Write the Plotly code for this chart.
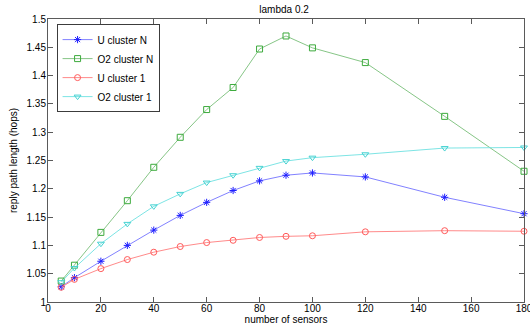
import plotly.graph_objects as go

x_sensors = [5, 10, 20, 30, 40, 50, 60, 70, 80, 90, 100, 120, 150, 180]

u_cluster_n = [1.027, 1.043, 1.072, 1.100, 1.127, 1.153, 1.176, 1.197, 1.214, 1.224, 1.228, 1.221, 1.185, 1.156]
o2_cluster_n = [1.037, 1.065, 1.123, 1.179, 1.238, 1.291, 1.340, 1.379, 1.447, 1.470, 1.449, 1.423, 1.328, 1.231]
u_cluster_1 = [1.026, 1.040, 1.059, 1.075, 1.088, 1.098, 1.105, 1.109, 1.114, 1.116, 1.117, 1.124, 1.126, 1.125]
o2_cluster_1 = [1.035, 1.060, 1.103, 1.138, 1.169, 1.191, 1.211, 1.224, 1.237, 1.249, 1.255, 1.261, 1.272, 1.273]

series_names = ["U cluster N", "O2 cluster N", "U cluster 1", "O2 cluster 1"]
series_values = [u_cluster_n, o2_cluster_n, u_cluster_1, o2_cluster_1]
line_colors = ["rgb(115,115,255)", "rgb(120,190,120)", "rgb(255,125,125)", "rgb(110,225,225)"]
marker_colors = ["rgb(30,30,255)", "rgb(60,170,60)", "rgb(255,90,90)", "rgb(70,210,210)"]
symbols = ["asterisk-open", "square-open", "circle-open", "triangle-down-open"]

x_ticks = [0, 20, 40, 60, 80, 100, 120, 140, 160, 180]
y_ticks = [1, 1.05, 1.1, 1.15, 1.2, 1.25, 1.3, 1.35, 1.4, 1.45, 1.5]

fig = go.Figure()
for name, vals, lc, mc, sym in zip(series_names, series_values, line_colors, marker_colors, symbols):
    fig.add_trace(go.Scatter(
        x=x_sensors, y=vals, name=name, mode="lines+markers", cliponaxis=False,
        line=dict(color=lc, width=0.9),
        marker=dict(symbol=sym, size=6, color=mc, line=dict(color=mc, width=1)),
    ))

font = "Liberation Sans, Arial, sans-serif"
axis_common = dict(
    showline=True, linecolor="rgb(90,90,90)", linewidth=1, mirror="ticks",
    ticks="inside", ticklen=5, tickcolor="rgb(90,90,90)", showgrid=False, zeroline=False,
    tickfont=dict(family=font, size=10, color="black"), automargin=False,
    ticklabeloverflow="allow",
)

fig.update_layout(
    width=530, height=326,
    margin=dict(l=48, r=6, t=19, b=24),
    paper_bgcolor="white", plot_bgcolor="white",
    title=dict(text="lambda 0.2", x=0.536, xanchor="center", y=0.97, yanchor="middle",
               font=dict(family=font, size=10, color="black")),
    xaxis=dict(range=[0, 180], tickvals=x_ticks, ticklabelstandoff=-3, **axis_common,
               title=dict(text="number of sensors", standoff=1,
                          font=dict(family=font, size=10, color="black"))),
    yaxis=dict(range=[1, 1.5], tickvals=y_ticks, ticklabelstandoff=-1, **axis_common,
               title=dict(text="reply path length (hops)", standoff=7,
                          font=dict(family="Liberation Sans Narrow, Arial Narrow, sans-serif", size=10, color="black"))),
    legend=dict(x=0.018, y=0.982, xanchor="left", yanchor="top",
                bgcolor="white", bordercolor="rgb(60,60,60)", borderwidth=1,
                font=dict(family=font, size=10, color="black"),
                tracegroupgap=0, itemwidth=30),
    showlegend=True,
)

fig.write_html("out.html", post_script="document.body.style.margin='0';",
               config={"displayModeBar": False})
